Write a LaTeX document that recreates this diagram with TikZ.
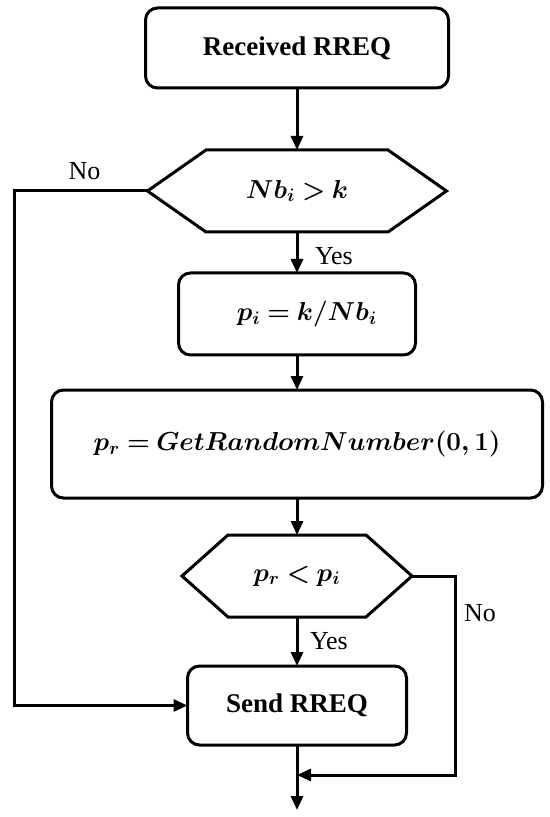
\RequirePackage{fix-cm}
\documentclass[tikz,border=0pt]{standalone}
\usepackage{fontspec}
\setmainfont{Liberation Serif}
\usetikzlibrary{arrows.meta}
\newcommand{\relgt}{\mathchar"313E\relax}
\newcommand{\rellt}{\mathchar"313C\relax}
\newcommand{\mathset}{\fontsize{13pt}{15pt}\selectfont\mathversion{bold}\thickmuskip=4mu plus 2mu\medmuskip=3mu}
\begin{document}
\begin{tikzpicture}[x=0.5pt,y=-0.5pt,
  every node/.style={inner sep=0pt, outer sep=0pt},
  box/.style={draw, line width=1.5pt, rounded corners=6pt,
     font=\fontsize{13.5pt}{16pt}\selectfont\bfseries},
  mbox/.style={draw, line width=1.5pt, rounded corners=6pt, font=\mathset},
  hexnode/.style={font=\mathset},
  lbl/.style={font=\fontsize{13pt}{15pt}\selectfont},
  conn/.style={line width=1.5pt, -{Triangle[length=7pt,width=6pt]}},
  hexline/.style={line width=1.5pt, line join=miter}]
\useasboundingbox (0,0) rectangle (550,817);
% nodes
\node[box, minimum width=151.5pt, minimum height=40pt] (b1) at (297,48) {Received RREQ};
\node[hexnode, minimum width=149.5pt, minimum height=41pt] (h1) at (297,191) {\(Nb_i \relgt k\)};
\draw[hexline] (h1.west) -- ([xshift=29.25pt]h1.north west) -- ([xshift=-29.25pt]h1.north east) -- (h1.east) -- ([xshift=-29.25pt]h1.south east) -- ([xshift=29.25pt]h1.south west) -- cycle;
\node[mbox, minimum width=118.5pt, minimum height=41pt] (b2) at (297,314) {\hspace{10pt}\(p_i = k/Nb_i\)};
\node[mbox, minimum width=245.5pt, minimum height=54pt] (b3) at (297,444) {\(p_r = GetRandomNumber(0,1)\)};
\node[hexnode, minimum width=115pt, minimum height=41pt] (h2) at (297,576) {\(p_r \rellt p_i\)};
\draw[hexline] (h2.west) -- ([xshift=23pt]h2.north west) -- ([xshift=-23pt]h2.north east) -- (h2.east) -- ([xshift=-23pt]h2.south east) -- ([xshift=23pt]h2.south west) -- cycle;
\node[box, minimum width=109.5pt, minimum height=39.5pt] (b4) at (297,705.5) {Send RREQ};
\coordinate (cl1) at (14,191);
\coordinate (cl2) at (14,705.5);
\coordinate (cr1) at (455,576);
\coordinate (cr2) at (455,775);
\coordinate (cm) at (297,775);
\coordinate (end) at (297,810);
% labels
\node[lbl] (no1) at (84.5,171.5) {No};
\node[lbl, anchor=west] (yes1) at (315,256) {Yes};
\node[lbl, anchor=west] (yes2) at (310,641) {Yes};
\node[lbl] (no2) at (480,613) {No};
% connectors
\draw[conn] (b1.south) -- (h1.north);
\draw[conn] (h1.south) -- (b2.north);
\draw[conn] (b2.south) -- (b3.north);
\draw[conn] (b3.south) -- (h2.north);
\draw[conn] (h2.south) -- (b4.north);
\draw[conn, line join=miter] (h1.west) -- (cl1) -- (cl2) -- (b4.west);
\draw[conn, line join=miter] (h2.east) -- (cr1) -- (cr2) -- (cm);
\draw[conn] (b4.south) -- (end);
\end{tikzpicture}
\end{document}
